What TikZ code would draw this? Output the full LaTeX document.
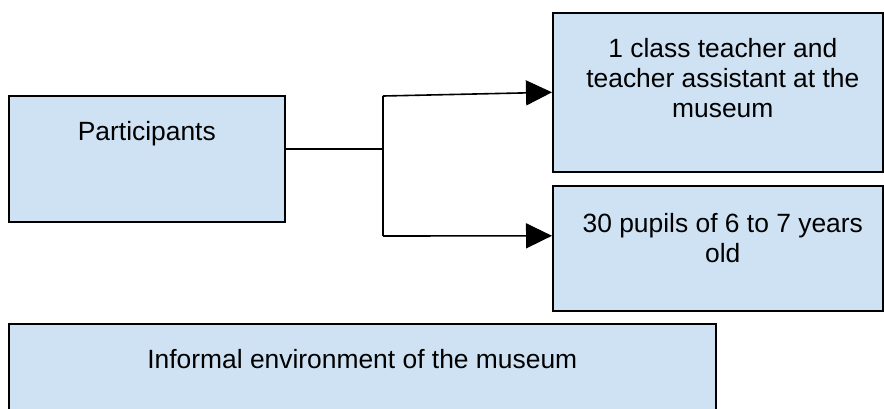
\documentclass[tikz,border=0pt]{standalone}
\usepackage{fontspec}
\setmainfont{Liberation Sans}
\usetikzlibrary{arrows.meta}
\definecolor{boxfill}{HTML}{CFE2F3}
% centred lines stacked in a \vtop, so the node's base is the first baseline
\newcommand\stacklines[1]{\vtop{\halign{\hfil##\hfil\cr#1\crcr}}}
\begin{document}
\begin{tikzpicture}[x=1pt,y=-1pt,
  box/.style={draw=black, line width=1.6pt, fill=boxfill, inner sep=0pt, anchor=north west},
  boxtext/.style={anchor=base, inner sep=0pt, font=\fontsize{26.4}{30.4}\selectfont},
  link/.style={line width=1.6pt},
  arrowlink/.style={link, -{Triangle[length=26pt,width=25pt]}}]
\useasboundingbox (0,0) rectangle (884,408);

% boxes
\node[box, minimum width=276pt, minimum height=126pt] (part) at (8,95) {};
\node[box, minimum width=330pt, minimum height=159pt] (staff) at (552,12) {};
\node[box, minimum width=330pt, minimum height=125pt] (pupils) at (552,185) {};
\node[box, minimum width=707pt, minimum height=100pt] (env) at (8,323) {};

% box texts, first baseline 45pt below the top edge
\node[boxtext] (partT) at ([yshift=-45pt]part.north) {Participants};
\node[boxtext] (staffT) at ([xshift=5pt,yshift=-45pt]staff.north)
  {\stacklines{1 class teacher and\cr teacher assistant at the\cr museum}};
\node[boxtext] (pupilsT) at ([xshift=5pt,yshift=-47pt]pupils.north)
  {\stacklines{30 pupils of 6 to 7 years\cr old}};
\node[boxtext] (envT) at ([yshift=-45pt]env.north) {Informal environment of the museum};

% fork connector
\coordinate (fork) at (383,149);
\coordinate (forktop) at (383,96);
\coordinate (forkbot) at (383,236);
\draw[link] (part.east |- fork) -- (fork);
\draw[link] (forktop) -- (forkbot);
\draw[arrowlink] (forktop) -- (staff.west);
\draw[arrowlink] (forkbot) -- ([yshift=12.5pt]pupils.west);
\end{tikzpicture}
\end{document}
